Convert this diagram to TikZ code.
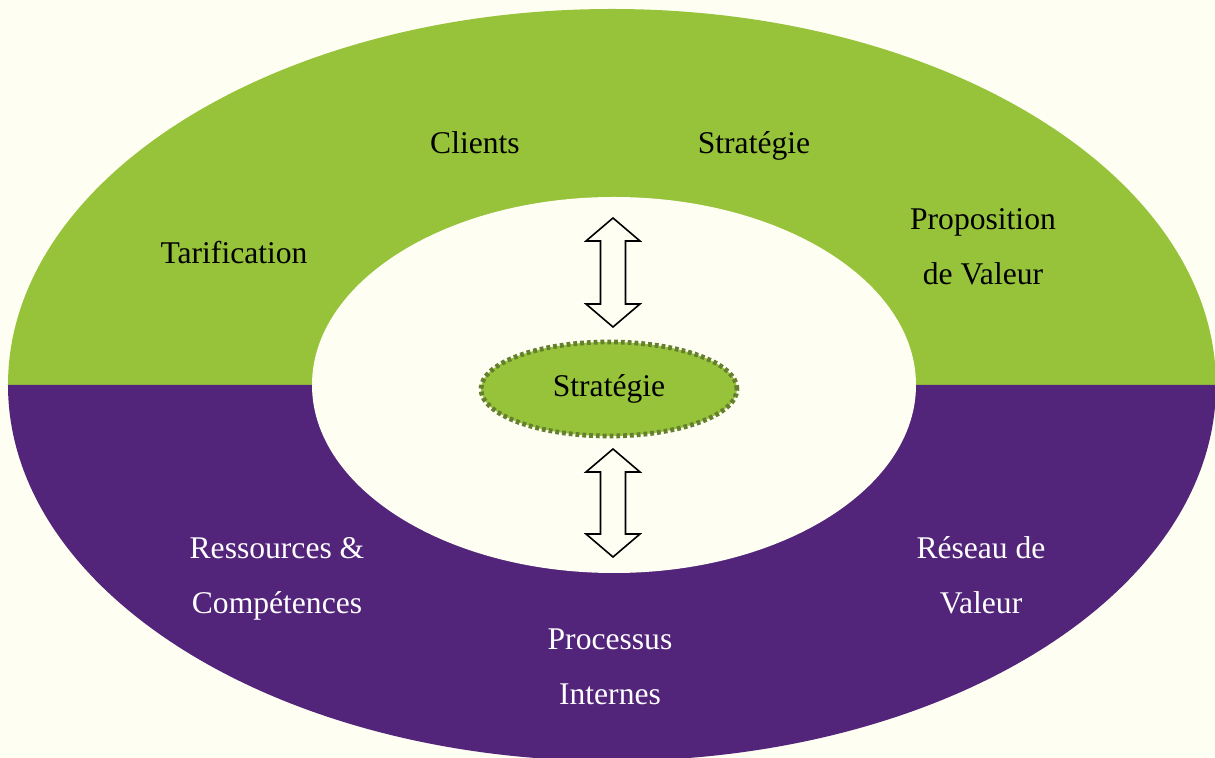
\documentclass[tikz,border=0pt]{standalone}
\usepackage{fontspec}
\setmainfont{Liberation Serif}
\usetikzlibrary{shapes.geometric}

\definecolor{cream}{HTML}{FEFEF3}
\definecolor{leaf}{HTML}{97C33A}
\definecolor{plum}{HTML}{52247A}
\definecolor{olive}{HTML}{647F2E}

\begin{document}
\begin{tikzpicture}[
  x=0.5pt, y=0.5pt,
  label/.style={font=\fontsize{15.8}{27.5}\selectfont, align=center, inner sep=0pt},
  toplabel/.style={label, text=black},
  botlabel/.style={label, text=white},
  core/.style={ellipse, fill=leaf, draw=olive, line width=2.4pt,
               dash pattern=on 1.9pt off 1.5pt, minimum width=128pt, minimum height=47pt,
               font=\fontsize{15.8}{19}\selectfont, inner sep=0pt},
  twoway/.style={draw=black, fill=cream, line width=0.8pt, miter limit=10}
]

% Background and frame
\fill[cream] (-612,-373) rectangle (603,385);
\clip (-612,-373) rectangle (603,385);

% Outer ring: green top, purple bottom
\fill[leaf] (-604,0) arc[start angle=180, end angle=0, x radius=604, y radius=376] -- cycle;
\fill[plum] (-604,0) arc[start angle=180, end angle=360, x radius=604, y radius=376] -- cycle;

% Inner hole
\fill[cream] (2,0) ellipse[x radius=302, y radius=188];

% Centre
\node[core] (strat) at (-3,-4) {Stratégie};

% Double arrows above and below the centre
\foreach \ytop/\ybot in {167/58, -64/-172} {
  \draw[twoway] (1,\ytop) -- (28,\ytop-23) -- (13.5,\ytop-23) -- (13.5,\ybot+23)
    -- (28,\ybot+23) -- (1,\ybot) -- (-26,\ybot+23) -- (-11.5,\ybot+23)
    -- (-11.5,\ytop-23) -- (-26,\ytop-23) -- cycle;
}

% Top labels
\node[toplabel] (clients) at (-137,242) {Clients};
\node[toplabel] (strattop) at (142,239) {Stratégie};
\node[toplabel] (tarif) at (-378,132) {Tarification};
\node[toplabel] (propval) at (371,138.5) {Proposition\\de Valeur};

% Bottom labels
\node[botlabel] (ressources) at (-335,-193.5) {Ressources \&\\Compétences};
\node[botlabel] (processus) at (-2,-281.5) {Processus\\Internes};
\node[botlabel] (reseau) at (369,-190.5) {Réseau de\\Valeur};

\end{tikzpicture}
\end{document}
